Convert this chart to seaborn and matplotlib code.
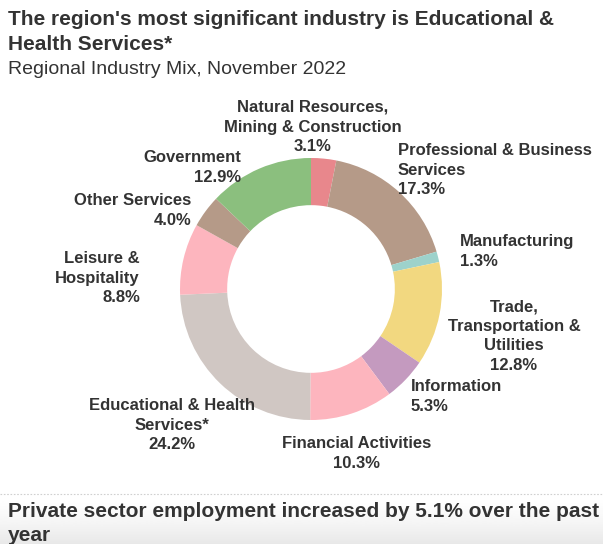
import numpy as np
import matplotlib
matplotlib.use("Agg")
import matplotlib.pyplot as plt
import seaborn as sns

# Regional industry mix, November 2022 (share of employment, %)
industries = [
    "Natural Resources,\nMining & Construction",
    "Professional & Business\nServices",
    "Manufacturing",
    "Trade,\nTransportation &\nUtilities",
    "Information",
    "Financial Activities",
    "Educational & Health\nServices*",
    "Leisure &\nHospitality",
    "Other Services",
    "Government",
]
shares = [3.1, 17.3, 1.3, 12.8, 5.3, 10.3, 24.2, 8.8, 4.0, 12.9]
colors = ["#E8878C", "#B59A88", "#9DD2CB", "#F2D880", "#C49ABF",
          "#FDB5BE", "#D0C7C3", "#FDB5BE", "#B59A88", "#8BBF7E"]

title = "The region's most significant industry is Educational &\nHealth Services*"
subtitle = "Regional Industry Mix, November 2022"
footer = "Private sector employment increased by 5.1% over the past\nyear"

sns.set_theme(style="white")
plt.rcParams["font.family"] = ["Liberation Sans", "DejaVu Sans"]

W, H = 603, 544
fig = plt.figure(figsize=(W / 100, H / 100), dpi=100)
ax = fig.add_axes([0, 0, 1, 1])
ax.set_xlim(0, W)
ax.set_ylim(0, H)
ax.set_aspect("equal")
ax.axis("off")

def py(y):
    return H - y

# bottom banner: soft grey gradient behind the footer headline
grad = np.linspace(0, 1, 100).reshape(-1, 1)
ax.imshow(1 - 0.09 * grad ** 1.5, cmap="gray", vmin=0, vmax=1, aspect="auto",
          extent=(0, W, py(544), py(494)), origin="upper", zorder=0)
ax.plot([0, W], [py(494), py(494)], color="#d0d0d0", lw=0.8,
        linestyle=(0, (1.5, 1.5)), zorder=1)

palette = sns.color_palette(colors)
ax.pie(shares, colors=palette, startangle=90, counterclock=False,
       center=(311, py(289)), radius=131,
       wedgeprops=dict(width=131 * 0.36, edgecolor="none", linewidth=0))
ax.set_xlim(0, W)
ax.set_ylim(0, H)

label_pos = [
    (313, 100, "center"),
    (398, 143, "left"),
    (460, 234, "left"),
    (514, 299, "center"),
    (411, 379, "left"),
    (357, 436, "center"),
    (172, 398, "center"),
    (140, 251, "right"),
    (191, 193, "right"),
    (241, 150, "right"),
]
for name, val, (x, y, ha) in zip(industries, shares, label_pos):
    ax.text(x, py(y), f"{name}\n{val:.1f}%", ha=ha, va="top", multialignment=ha,
            fontsize=12, fontweight="bold", color="#333333", linespacing=1.38)

ax.text(8, py(10), title, ha="left", va="top", fontsize=15, fontweight="bold",
        color="#333333", linespacing=1.42)
ax.text(8, py(61), subtitle, ha="left", va="top", fontsize=14, color="#333333")
ax.text(8, py(502), footer, ha="left", va="top", fontsize=15, fontweight="bold",
        color="#333333", linespacing=1.35)

fig.savefig("out.png", dpi=100)
